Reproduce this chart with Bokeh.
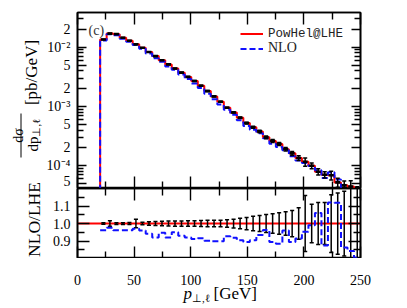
import numpy as np
from bokeh.plotting import figure
from bokeh.layouts import column, row
from bokeh.models import (Range1d, LogAxis, LinearAxis, FixedTicker, CustomJSTickFormatter,
                          Legend, LegendItem, Span, Label)
from bokeh.core.properties import value
from bokeh.embed import file_html
from bokeh.resources import INLINE

# ---------------- data ----------------
bin_lo, bin_hi, n_bins = 20.0, 250.0, 40

# PowHel@LHE  dsigma/dpT  [pb/GeV]
lhe = [0.01349, 0.01698, 0.01660, 0.01445, 0.01288, 0.01122, 0.00977, 0.00832,
       0.00708, 0.00603, 0.00513, 0.00437, 0.00372, 0.00316, 0.00269, 0.00224,
       0.00182, 0.00148, 0.00120, 0.000955, 0.000794, 0.000646, 0.000525, 0.000447,
       0.000380, 0.000302, 0.000263, 0.000234, 0.000191, 0.000162, 0.000135, 0.000117,
       0.000100, 0.0000794, 0.0000708, 0.0000692, 0.0000525, 0.0000468, 0.0000447, 0.0000355]

# NLO / LHE
ratio = [0.961, 0.976, 0.961, 0.961, 0.961, 0.970, 0.960, 0.941,
         0.920, 0.947, 0.920, 0.950, 0.930, 0.920, 0.912, 0.916,
         0.902, 0.898, 0.898, 0.927, 0.918, 0.904, 0.894, 0.904,
         0.935, 0.963, 0.894, 0.884, 0.960, 0.894, 0.914, 0.953,
         0.990, 1.060, 0.875, 1.120, 1.118, 0.863, 0.843, 0.804]

# relative statistical uncertainty of LHE
rel_err = [0.004, 0.016, 0.005, 0.005, 0.006, 0.024, 0.007, 0.010,
           0.012, 0.013, 0.014, 0.015, 0.015, 0.016, 0.016, 0.017,
           0.018, 0.018, 0.019, 0.021, 0.025, 0.030, 0.035, 0.041,
           0.046, 0.051, 0.056, 0.061, 0.067, 0.075, 0.090, 0.160,
           0.110, 0.120, 0.120, 0.165, 0.175, 0.185, 0.250, 0.250]

x_major = [0, 50, 100, 150, 200, 250]
x_minor = [25, 75, 125, 175, 225]
x_tick_labels = ["0", "50", "100", "150", "200", "250"]
y_top_major = [5e-5, 1e-4, 2e-4, 5e-4, 1e-3, 2e-3, 5e-3, 1e-2, 2e-2]
y_top_minor = [6e-5, 7e-5, 8e-5, 9e-5, 3e-4, 4e-4, 6e-4, 7e-4, 8e-4, 9e-4,
               3e-3, 4e-3, 6e-3, 7e-3, 8e-3, 9e-3, 3e-2]
r_major = [0.9, 1.0, 1.1]
r_minor = [0.85, 0.95, 1.05, 1.15]

legend_labels = ["PowHel@LHE", "NLO"]
panel_tag = "(c)"
y_title_unit = "[pb/GeV]"
ratio_title = "NLO/LHE"

# ---------------- derived arrays ----------------
lhe = np.array(lhe)
ratio = np.array(ratio)
rel_err = np.array(rel_err)
nlo = lhe * ratio
edges = np.linspace(bin_lo, bin_hi, n_bins + 1)
centers = 0.5 * (edges[:-1] + edges[1:])

FLOOR = 1e-7
step_x = np.repeat(edges, 2)[:-1]
lhe_y = np.concatenate([[FLOOR], np.repeat(lhe, 2)])
nlo_y = np.concatenate([[FLOOR], np.repeat(nlo, 2)])
rstep_x = np.repeat(edges, 2)[1:-1]
rstep_y = np.repeat(ratio, 2)

# ---------------- geometry (canvas pixels) ----------------
SERIF = "Liberation Serif"
RED = "#ff0000"
BLUE = "#1010ff"
TOTAL_W, TOTAL_H = 405, 306
LEFT_W = 43                       # strip with rotated axis titles
MAIN_W = TOTAL_W - LEFT_W
FRAME_L = 77
BORDER_L = FRAME_L - LEFT_W
FRAME_W = 283
BORDER_R = MAIN_W - BORDER_L - FRAME_W
TOP_H = 188                       # frame 12..188
RATIO_H = 70                      # frame 188..258
BOTTOM_H = TOTAL_H - TOP_H - RATIO_H


def style_axis(ax, tin, tmin, labels):
    ax.major_tick_in = tin
    ax.major_tick_out = 0
    ax.minor_tick_in = tmin
    ax.minor_tick_out = 0
    ax.major_tick_line_width = 1.4
    ax.minor_tick_line_width = 1.4
    ax.axis_line_width = 1.6
    ax.axis_line_color = "black"
    if labels:
        ax.major_label_text_font = SERIF
        ax.major_label_text_font_size = "14px"
        ax.major_label_text_color = "black"
        ax.major_label_standoff = 7
    else:
        ax.major_label_text_color = None
        ax.major_label_text_font_size = "0px"
        ax.major_label_standoff = 0
    return ax


log_fmt = CustomJSTickFormatter(code="""
const e = Math.floor(Math.log10(tick) + 1e-9);
const m = Math.round(tick / Math.pow(10, e));
const sup = {"1": "\u00b9", "2": "\u00b2", "3": "\u00b3", "4": "\u2074", "5": "\u2075"};
if (m == 1) { return "10\u207b" + sup[String(-e)]; }
return String(m);
""")
one_dec = CustomJSTickFormatter(code="return tick.toFixed(1);")


def base_fig(height, y_range, log=False, top=0):
    p = figure(width=MAIN_W, height=height, x_range=Range1d(0, 250), y_range=y_range,
               y_axis_type="log" if log else "linear",
               x_axis_location=None, y_axis_location=None,
               output_backend="svg", toolbar_location=None,
               min_border_left=BORDER_L, min_border_right=BORDER_R,
               min_border_top=top, min_border_bottom=0)
    p.grid.visible = False
    p.outline_line_color = "black"
    p.outline_line_width = 1.6
    p.background_fill_color = "white"
    p.border_fill_color = "white"
    return p


def strip_fig(width, height, x_range):
    p = figure(width=width, height=height, x_range=x_range, y_range=Range1d(0, height),
               x_axis_location=None, y_axis_location=None,
               output_backend="svg", toolbar_location=None,
               min_border_left=0, min_border_right=0, min_border_top=0, min_border_bottom=0)
    p.grid.visible = False
    p.outline_line_color = None
    p.background_fill_color = "white"
    p.border_fill_color = "white"
    return p


# ---------------- top panel ----------------
p1 = base_fig(TOP_H, Range1d(4.14e-5, 0.0385), log=True, top=12)
p1.add_layout(style_axis(LogAxis(ticker=FixedTicker(ticks=y_top_major, minor_ticks=y_top_minor),
                                 formatter=log_fmt), 9, 6, True), "left")
p1.add_layout(style_axis(LogAxis(ticker=FixedTicker(ticks=y_top_major, minor_ticks=y_top_minor)), 9, 6, False), "right")
p1.add_layout(style_axis(LinearAxis(ticker=FixedTicker(ticks=x_major, minor_ticks=x_minor)), 12, 7, False), "above")
p1.add_layout(style_axis(LinearAxis(ticker=FixedTicker(ticks=x_major, minor_ticks=x_minor)), 12, 7, False), "below")

r_lhe = p1.line(step_x, lhe_y, line_color=RED, line_width=2)
r_nlo = p1.line(step_x, nlo_y, line_color=BLUE, line_width=2, line_dash="6 3")
p1.segment(centers, lhe * (1 - rel_err), centers, lhe * (1 + rel_err), line_color="black", line_width=1.5)
p1.segment(centers - 1.8, lhe * (1 - rel_err), centers + 1.8, lhe * (1 - rel_err), line_color="black", line_width=1.5)
p1.segment(centers - 1.8, lhe * (1 + rel_err), centers + 1.8, lhe * (1 + rel_err), line_color="black", line_width=1.5)
p1.segment(centers - 2.2, lhe, centers + 2.2, lhe, line_color="black", line_width=2.6)

leg1 = Legend(items=[LegendItem(label=legend_labels[0], renderers=[r_lhe])], location=(163, 147))
leg2 = Legend(items=[LegendItem(label=legend_labels[1], renderers=[r_nlo])], location=(163, 132))
for lg, font, fs in ((leg1, "Liberation Mono", "12.5px"), (leg2, SERIF, "14px")):
    lg.label_text_font = font
    lg.label_text_font_size = fs
    lg.label_text_color = "#222222"
    lg.glyph_width = 23
    lg.glyph_height = 15
    lg.label_height = 15
    lg.label_standoff = 5
    lg.padding = 0
    lg.margin = 0
    lg.spacing = 0
    lg.border_line_color = None
    lg.background_fill_alpha = 0
    p1.add_layout(lg)

p1.add_layout(Label(x=11, y=158, x_units="screen", y_units="screen", text=panel_tag,
                    text_font=SERIF, text_font_size="14px", text_baseline="middle",
                    text_color="#333333"))

# ---------------- ratio panel ----------------
p2 = base_fig(RATIO_H, Range1d(0.8, 1.2), top=0)
p2.x_range = p1.x_range
p2.add_layout(style_axis(LinearAxis(ticker=FixedTicker(ticks=r_major, minor_ticks=r_minor),
                                    formatter=one_dec), 12, 7, True), "left")
p2.add_layout(style_axis(LinearAxis(ticker=FixedTicker(ticks=r_major, minor_ticks=r_minor)), 12, 7, False), "right")
p2.add_layout(style_axis(LinearAxis(ticker=FixedTicker(ticks=x_major, minor_ticks=x_minor)), 12, 7, False), "above")
p2.add_layout(style_axis(LinearAxis(ticker=FixedTicker(ticks=x_major, minor_ticks=x_minor)), 12, 7, False), "below")

unity = Span(location=1.0, dimension="width", line_color=RED, line_width=2)
unity.level = "underlay"
p2.add_layout(unity)

p2.segment(centers, 1 - rel_err, centers, 1 + rel_err, line_color="black", line_width=1.5)
p2.segment(centers - 1.8, 1 - rel_err, centers + 1.8, 1 - rel_err, line_color="black", line_width=1.5)
p2.segment(centers - 1.8, 1 + rel_err, centers + 1.8, 1 + rel_err, line_color="black", line_width=1.5)
p2.line(rstep_x, rstep_y, line_color=BLUE, line_width=2, line_dash="6 3")

# ---------------- left strip: rotated y titles ----------------
LS_H = TOP_H + RATIO_H
ls = strip_fig(LEFT_W, LS_H, Range1d(0, LEFT_W))
rot = np.pi / 2


def sy(page_y):
    return LS_H - page_y


def vtext(x, y, txt, size, align="center"):
    ls.text(x=[x], y=[y], text=[txt], angle=rot, text_font=value(SERIF),
            text_font_size=size, text_align=align, text_baseline="alphabetic", text_color="black")


vtext(30.5, sy(72), y_title_unit, "17px")
vtext(18, sy(135), "d\u03c3", "14px")
ls.segment(x0=[20.5], y0=[sy(113)], x1=[20.5], y1=[sy(157)], line_color="black", line_width=1)
vtext(32.5, sy(151), "dp", "15px", align="left")
vtext(35.5, sy(136), "\u22a5,\u2113", "10.5px", align="left")
vtext(33.5, sy(219), ratio_title, "17.5px")

# ---------------- bottom strip (full width): x tick labels + x title ----------------
GEV_PER_PX = 250.0 / FRAME_W
bs = strip_fig(TOTAL_W, BOTTOM_H,
               Range1d(-FRAME_L * GEV_PER_PX, (TOTAL_W - FRAME_L) * GEV_PER_PX))
BS_TOP = TOP_H + RATIO_H


def by(page_y):
    return BOTTOM_H - (page_y - BS_TOP)


def gx(page_x):
    return (page_x - FRAME_L) * GEV_PER_PX


bs.text(x=x_major, y=[by(279.5)] * len(x_major), text=x_tick_labels, text_font=value(SERIF),
        text_font_size="14px", text_align="center", text_baseline="alphabetic", text_color="black")
bs.text(x=[gx(183)], y=[by(293)], text=["p"], text_font=value(SERIF), text_font_style="italic",
        text_font_size="17px", text_align="left", text_baseline="alphabetic", text_color="black")
bs.text(x=[gx(191.5)], y=[by(297)], text=["\u22a5,\u2113"], text_font=value(SERIF),
        text_font_size="11px", text_align="left", text_baseline="alphabetic", text_color="black")
bs.text(x=[gx(213)], y=[by(293)], text=["[GeV]"], text_font=value(SERIF),
        text_font_size="17px", text_align="left", text_baseline="alphabetic", text_color="black")

layout = column(row(ls, column(p1, p2, spacing=0), spacing=0), bs, spacing=0)
open("out.html", "w").write(file_html(layout, INLINE))
